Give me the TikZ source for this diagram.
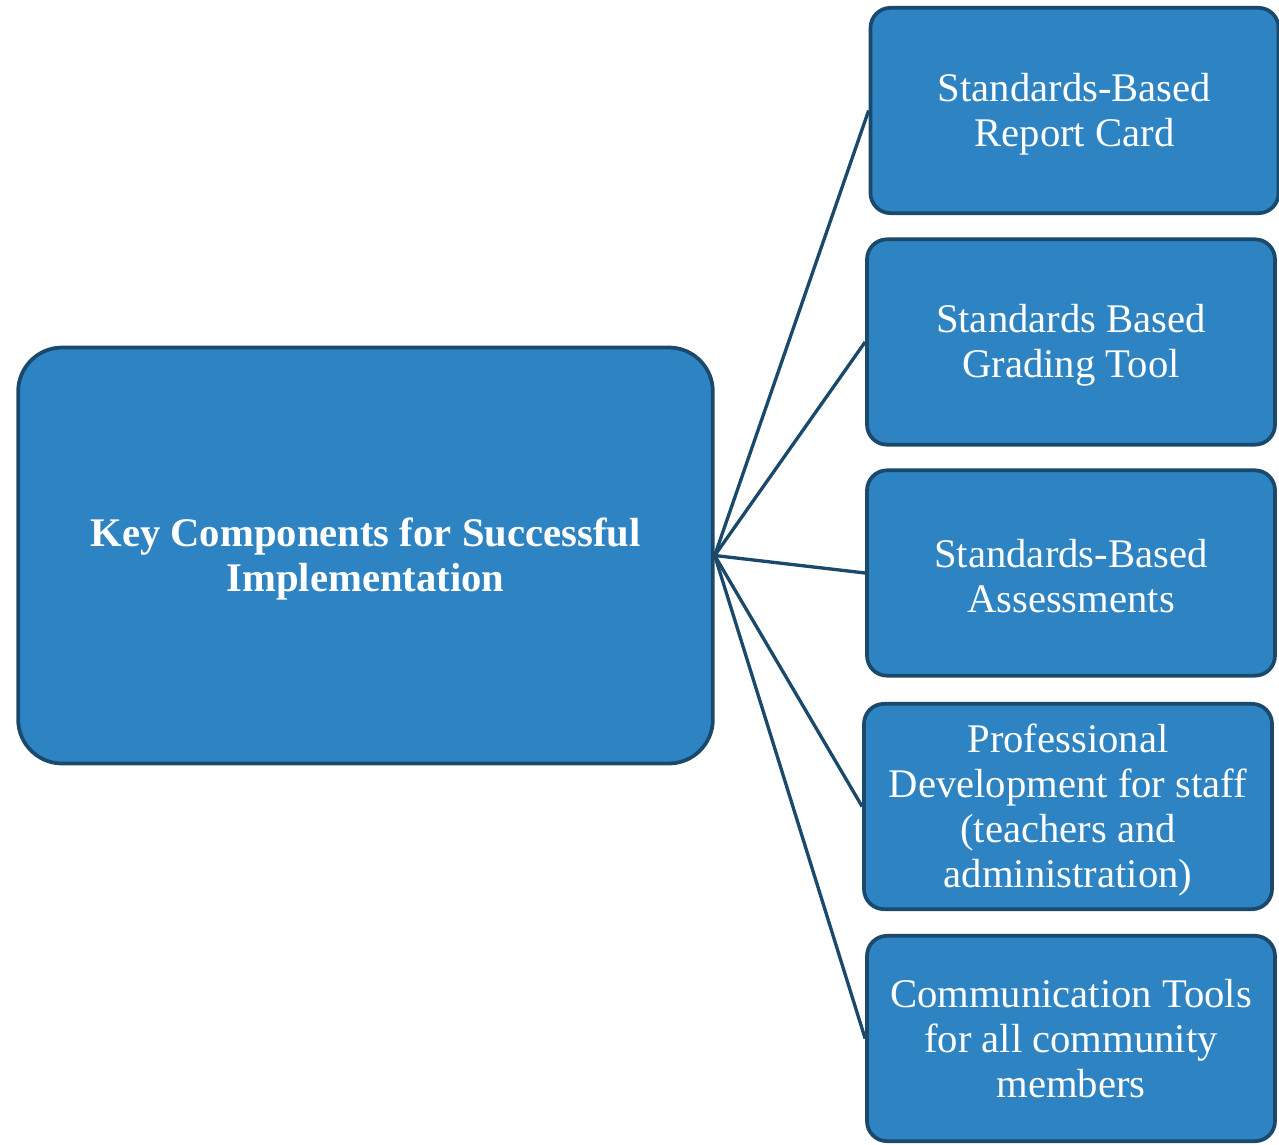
\documentclass[tikz,border=0pt]{standalone}
\usepackage{fontspec}
\setmainfont{Liberation Serif}
\definecolor{boxfill}{RGB}{46,131,194}
\definecolor{boxline}{RGB}{27,73,107}
\begin{document}
\begin{tikzpicture}[x=0.75pt,y=-0.75pt,
  card/.style={draw=boxline, line width=2.8pt, fill=boxfill,
    minimum width=306pt, minimum height=154pt, rounded corners=15pt, inner sep=0pt},
  hub/.style={card, minimum width=521pt, minimum height=312pt, rounded corners=33pt},
  cardtext/.style={text=white, align=center, inner sep=0pt, yshift=-2.6pt,
    font=\fontsize{30.5}{33.75}\selectfont},
  hubtext/.style={cardtext, font=\fontsize{30.5}{33.75}\selectfont\bfseries},
  link/.style={draw=boxline, line width=2.5pt}]
\useasboundingbox (0,0) rectangle (1279,1145);
\node[hub, label={[hubtext]center:{Key Components for Successful\\Implementation}}]
  (hubnode) at (365.5,555.5) {};
\node[card, label={[cardtext]center:{Standards-Based\\Report Card}}]
  (b1) at (1074.5,110.5) {};
\node[card, label={[cardtext]center:{Standards Based\\Grading Tool}}]
  (b2) at (1071,342) {};
\node[card, label={[cardtext]center:{Standards-Based\\Assessments}}]
  (b3) at (1071,573) {};
\node[card, label={[cardtext]center:{Professional\\Development for staff\\(teachers and\\administration)}}]
  (b4) at (1068,806.5) {};
\node[card, label={[cardtext, yshift=2.6pt]center:{Communication Tools\\for all community\\members}}]
  (b5) at (1071,1038.5) {};
\foreach \b in {b1,b2,b3,b4,b5}
  \draw[link] (hubnode.east) -- (\b.west);
\end{tikzpicture}
\end{document}
